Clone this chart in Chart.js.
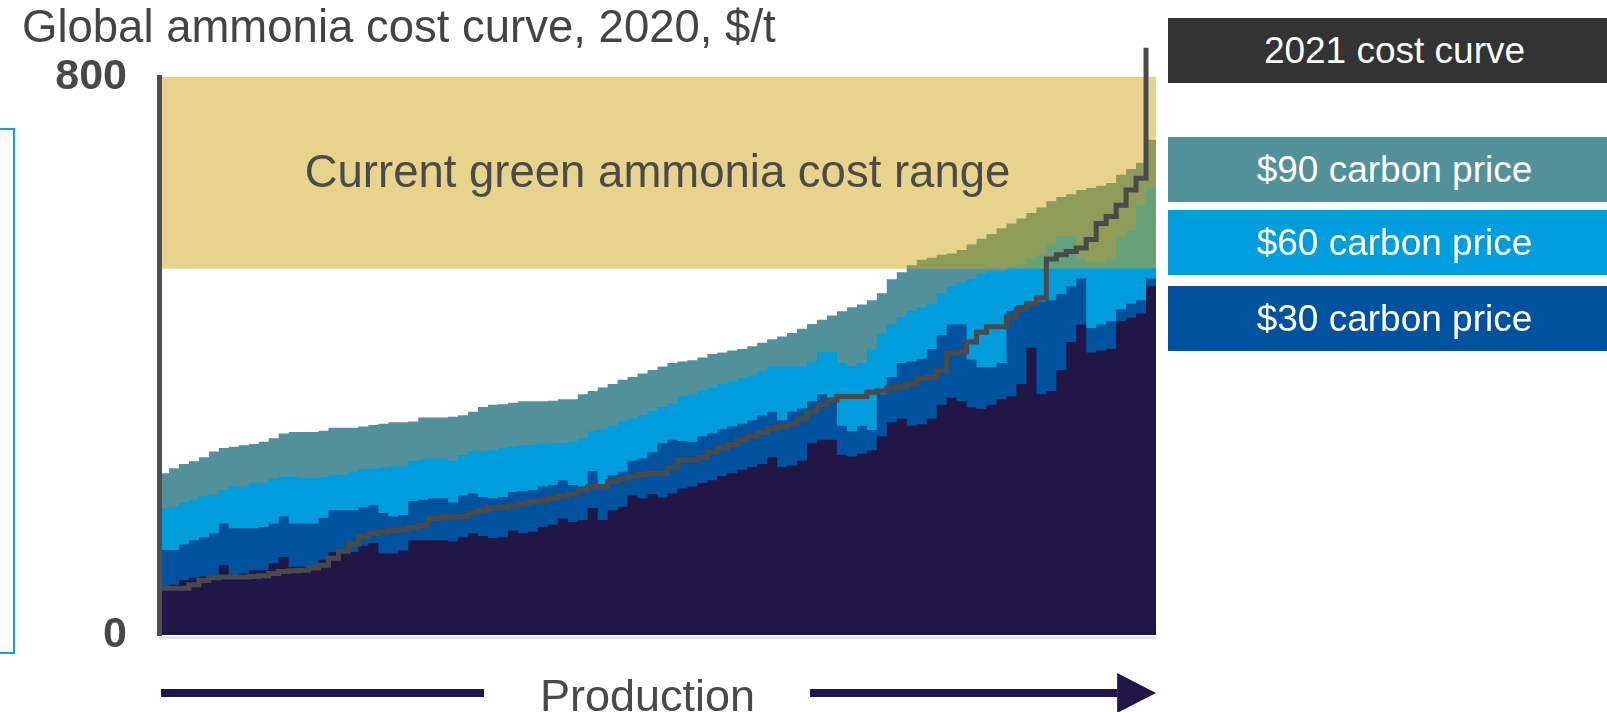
<!DOCTYPE html>
<html>
<head>
<meta charset="utf-8">
<script src="https://cdn.jsdelivr.net/npm/chart.js@4.4.1/dist/chart.umd.min.js"></script>
<style>
  html, body { margin: 0; padding: 0; background: #fff; overflow: hidden; }
  #wrap { position: relative; width: 1607px; height: 712px; font-family: "Liberation Sans", Arial, sans-serif; }
  #chart { position: absolute; left: 0; top: 0; }
  .title { position: absolute; left: 22px; top: 4px; font-size: 45.5px; line-height: 1; color: #444; white-space: nowrap; }
  .key { position: absolute; left: 1168px; width: 453px; height: 65px; color: #fff; font-size: 37px;
         display: flex; align-items: center; justify-content: center; white-space: nowrap; }
  .frame { position: absolute; left: -10px; top: 128px; width: 21px; height: 522px; border: 2px solid #1a9fdb; }
</style>
</head>
<body>
<div id="wrap">
  <canvas id="chart" width="1607" height="712"></canvas>
  <div class="frame"></div>
  <div class="title">Global ammonia cost curve, 2020, $/t</div>
  <div class="key" style="top:18px;background:#333333">2021 cost curve</div>
  <div class="key" style="top:137px;background:#52919a">$90 carbon price</div>
  <div class="key" style="top:210px;background:#009ddc">$60 carbon price</div>
  <div class="key" style="top:286px;background:#00529f">$30 carbon price</div>
</div>
<script>
// cost per plant block, $/t, left to right along cumulative production
const carbon90 = [
  232, 239, 245, 249, 255, 263, 268, 270, 272, 274, 277, 282, 289, 291, 291, 291, 293, 297, 297, 297, 299, 301, 303, 305, 305,
  306, 312, 312, 312, 313, 315, 320, 327, 330, 331, 333, 335, 335, 335, 336, 338, 338, 345, 350, 355, 360, 366, 370, 375, 380,
  385, 390, 392, 394, 398, 403, 405, 408, 410, 414, 419, 424, 428, 433, 439, 446, 452, 458, 464, 470, 474, 480, 490, 510, 520,
  530, 538, 541, 545, 547, 552, 560, 568, 575, 583, 590, 597, 605, 613, 622, 628, 632, 638, 641, 644, 648, 660, 668, 677, 710
];
const carbon60 = [
  181, 184, 190, 194, 199, 201, 208, 213, 213, 218, 218, 224, 227, 227, 225, 225, 226, 229, 229, 234, 238, 238, 240, 242, 242,
  250, 252, 253, 253, 250, 258, 263, 263, 265, 268, 270, 272, 272, 274, 275, 275, 277, 282, 292, 294, 300, 306, 310, 315, 321,
  327, 332, 342, 345, 351, 355, 360, 363, 368, 372, 378, 385, 385, 385, 385, 392, 406, 406, 390, 385, 390, 410, 432, 445, 456,
  465, 470, 475, 490, 500, 505, 510, 518, 522, 522, 528, 530, 540, 545, 560, 572, 572, 540, 535, 533, 540, 572, 580, 616, 640
];
const carbon30 = [
  122, 122, 130, 136, 140, 146, 160, 153, 153, 153, 155, 160, 170, 160, 160, 160, 168, 179, 179, 179, 183, 186, 175, 170, 172,
  192, 194, 196, 196, 190, 200, 203, 198, 196, 198, 205, 206, 208, 213, 215, 222, 215, 213, 235, 213, 229, 234, 250, 253, 262,
  275, 280, 278, 277, 285, 289, 295, 299, 303, 308, 315, 320, 308, 320, 325, 335, 345, 337, 300, 292, 300, 294, 345, 370, 390,
  392, 396, 410, 430, 445, 445, 395, 384, 384, 390, 465, 473, 476, 478, 480, 489, 500, 511, 440, 445, 450, 467, 475, 480, 511
];
const baseCost = [
   69,  72,  79,  82,  84,  84, 100,  86,  88,  93,  93, 103, 112,  98,  98,  98, 108, 119, 119, 119, 128, 132, 117, 117, 121,
  136, 136, 136, 136, 134, 140, 146, 142, 139, 140, 150, 146, 148, 155, 158, 167, 162, 165, 182, 165, 179, 184, 200, 196, 202,
  197, 203, 210, 213, 218, 222, 228, 232, 237, 241, 245, 255, 241, 243, 250, 275, 280, 280, 258, 256, 260, 265, 285, 305, 310,
  300, 302, 310, 330, 340, 335, 326, 324, 330, 338, 342, 360, 412, 345, 350, 380, 420, 445, 405, 408, 410, 450, 455, 461, 500
];
const curve2021 = [
   67,  67,  67,  72,  78,  82,  83,  83,  83,  84,  85,  88,  91,  92,  93,  96, 100, 110, 120, 130, 141, 145, 148, 150, 151,
  154, 157, 167, 168, 169, 170, 175, 179, 182, 183, 186, 188, 191, 193, 196, 199, 202, 208, 213, 213, 220, 224, 227, 230, 232,
  232, 240, 251, 251, 255, 262, 268, 273, 280, 285, 290, 296, 299, 302, 310, 320, 330, 337, 342, 342, 342, 348, 350, 354, 356,
  360, 368, 370, 379, 404, 406, 420, 434, 442, 442, 456, 467, 475, 483, 539, 545, 550, 555, 567, 590, 600, 616, 638, 655, 842
];
const greenRange = [525, 800];
const yTicks = [0, 800];
const bandLabel = 'Current green ammonia cost range';
const axisLabel = 'Production';

const FONT = '"Liberation Sans", Arial, sans-serif';
const n = baseCost.length;

// each block holds its value until the next one starts
const toSteps = vals => vals.map((v, i) => ({ x: i, y: v })).concat([{ x: vals.length, y: vals[vals.length - 1] }]);
const area = (vals, color) => ({
  data: toSteps(vals), stepped: 'before', fill: 'origin',
  backgroundColor: color, borderWidth: 0, pointRadius: 0
});

// band caption, production arrow and the faint baseline
const overlay = {
  id: 'overlay',
  afterDatasetsDraw(chart) {
    const { ctx, chartArea: a, scales: { x, y } } = chart;
    ctx.save();
    ctx.fillStyle = '#e4e4e4';
    ctx.fillRect(a.left, a.bottom + 1, a.right - a.left, 3);

    ctx.fillStyle = '#4a4a4a';
    ctx.font = `45.5px ${FONT}`;
    ctx.textAlign = 'center';
    ctx.textBaseline = 'middle';
    ctx.fillText(bandLabel, x.getPixelForValue(50), y.getPixelForValue((greenRange[0] + greenRange[1]) / 2) + 2);

    const ay = a.bottom + 58;
    ctx.fillStyle = '#201747';
    ctx.fillRect(a.left + 2, ay - 4, x.getPixelForValue(32.6) - a.left - 2, 8);
    ctx.fillRect(x.getPixelForValue(65.3), ay - 4, x.getPixelForValue(96.1) - x.getPixelForValue(65.3), 8);
    ctx.beginPath();
    ctx.moveTo(x.getPixelForValue(96.1), ay - 20);
    ctx.lineTo(a.right, ay);
    ctx.lineTo(x.getPixelForValue(96.1), ay + 20);
    ctx.closePath();
    ctx.fill();

    ctx.fillStyle = '#4a4a4a';
    ctx.textBaseline = 'alphabetic';
    ctx.font = `45px ${FONT}`;
    ctx.fillText(axisLabel, x.getPixelForValue(49), 711);
    ctx.restore();
  }
};

new Chart(document.getElementById('chart'), {
  type: 'line',
  data: {
    datasets: [
      { data: curve2021.map((v, i) => ({ x: i, y: v })), stepped: 'before', fill: false,
        borderColor: '#4a4a4a', borderWidth: 5, pointRadius: 0, clip: false },
      { data: [{ x: 0, y: greenRange[1] }, { x: n, y: greenRange[1] }], fill: { value: greenRange[0] },
        backgroundColor: 'rgba(208,165,20,0.49)', borderWidth: 0, pointRadius: 0 },
      area(baseCost, '#201747'),
      area(carbon30, '#00529f'),
      area(carbon60, '#009ddc'),
      area(carbon90, '#52919a')
    ]
  },
  options: {
    responsive: false,
    devicePixelRatio: 1,
    animation: false,
    layout: { padding: { left: 0, right: 451, top: 77, bottom: 77 } },
    plugins: { legend: { display: false }, tooltip: { enabled: false } },
    scales: {
      x: { type: 'linear', min: 0, max: n, display: false },
      y: {
        min: yTicks[0], max: yTicks[1],
        grid: { display: false, drawTicks: false },
        border: { display: true, color: '#505050', width: 5, z: 1 },
        afterBuildTicks: s => { s.ticks = yTicks.map(v => ({ value: v })); },
        afterFit: s => { s.width = 159; },
        ticks: { padding: 32, color: '#484848', font: { family: FONT, size: 43, weight: 'bold' } }
      }
    }
  },
  plugins: [overlay]
});
</script>
</body>
</html>
